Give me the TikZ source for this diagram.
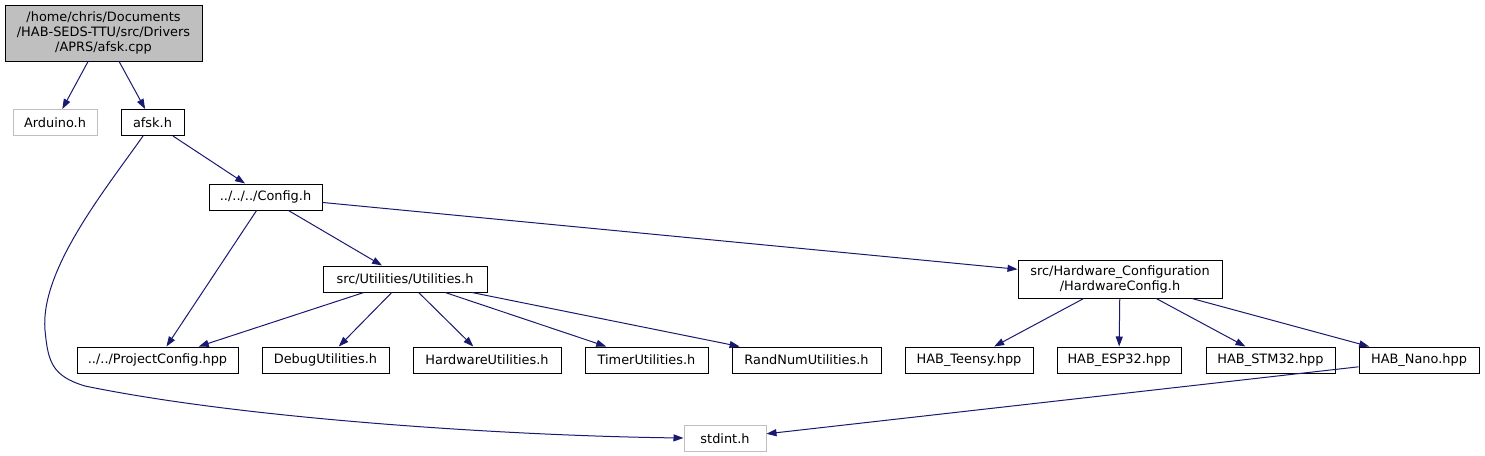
\documentclass[tikz,border=0pt]{standalone}
\usepackage{fontspec}
\setmainfont{DejaVu Sans}
\usetikzlibrary{arrows.meta}
\definecolor{edgeblue}{RGB}{25,25,112}
\definecolor{boxgray}{RGB}{191,191,191}

\begin{document}
\begin{tikzpicture}[x=1pt, y=-1pt,
    file/.style={rectangle, draw=black, line width=1pt, fill=white, inner sep=0pt,
                 minimum height=26pt, align=center, font=\fontsize{12.9}{15}\selectfont},
    extfile/.style={file, draw=boxgray},
    dep/.style={draw=edgeblue, line width=1pt, -{Triangle[length=10pt,width=7pt]}},
]
\useasboundingbox (0,0) rectangle (1485,455);

% source file
\node[file, fill=boxgray, minimum width=197pt, minimum height=56pt] (afskcpp) at (103.5,33)
  {/home/chris/Documents\\/HAB-SEDS-TTU/src/Drivers\\/APRS/afsk.cpp};

% first level
\node[extfile, minimum width=84pt] (arduino) at (55,122.5) {Arduino.h};
\node[file, minimum width=63pt] (afsk) at (152.5,122.5) {afsk.h};
\node[file, minimum width=113pt] (config) at (265.5,197) {../../../Config.h};

% utilities and hardware config
\node[file, minimum width=164pt] (utils) at (405,279) {src/Utilities/Utilities.h};
\node[file, minimum width=204pt, minimum height=38pt] (hwconfig) at (1120,279)
  {src/Hardware\_Configuration\\/HardwareConfig.h};

% bottom row
\node[file, minimum width=161pt] (projconfig) at (157.5,360) {../../ProjectConfig.hpp};
\node[file, minimum width=127pt] (debugutils) at (325.5,360) {DebugUtilities.h};
\node[file, minimum width=148pt] (hwutils) at (487,360) {HardwareUtilities.h};
\node[file, minimum width=123pt] (timerutils) at (646.5,360) {TimerUtilities.h};
\node[file, minimum width=149pt] (randutils) at (806.5,360) {RandNumUtilities.h};
\node[file, minimum width=128pt] (teensy) at (969,360) {HAB\_Teensy.hpp};
\node[file, minimum width=124pt] (esp32) at (1119,360) {HAB\_ESP32.hpp};
\node[file, minimum width=129pt] (stm32) at (1270.5,360) {HAB\_STM32.hpp};
\node[file, minimum width=120pt] (nano) at (1419,360) {HAB\_Nano.hpp};

% stdint
\node[extfile, minimum width=82pt] (stdint) at (725,438.5) {stdint.h};

% includes
\draw[dep] (afskcpp) -- (arduino);
\draw[dep] (afskcpp) -- (afsk);
\draw[dep] (afsk) -- (config);
\draw[dep] (afsk) .. controls (105,190) and (40,270) .. (45,330)
  .. controls (48,362) and (52,376) .. (85,386)
  .. controls (250,420) and (520,436) .. (stdint);
\draw[dep] (config) -- (projconfig);
\draw[dep] (config) -- (utils);
\draw[dep] (config) -- (hwconfig);
\draw[dep] (utils) -- (projconfig);
\draw[dep] (utils) -- (debugutils);
\draw[dep] (utils) -- (hwutils);
\draw[dep] (utils) -- (timerutils);
\draw[dep] (utils) -- (randutils);
\draw[dep] (hwconfig) -- (teensy);
\draw[dep] (hwconfig) -- (esp32);
\draw[dep] (hwconfig) -- (stm32);
\draw[dep] (hwconfig) -- (nano);
\draw[dep] (nano) -- (stdint);

\end{tikzpicture}
\end{document}
